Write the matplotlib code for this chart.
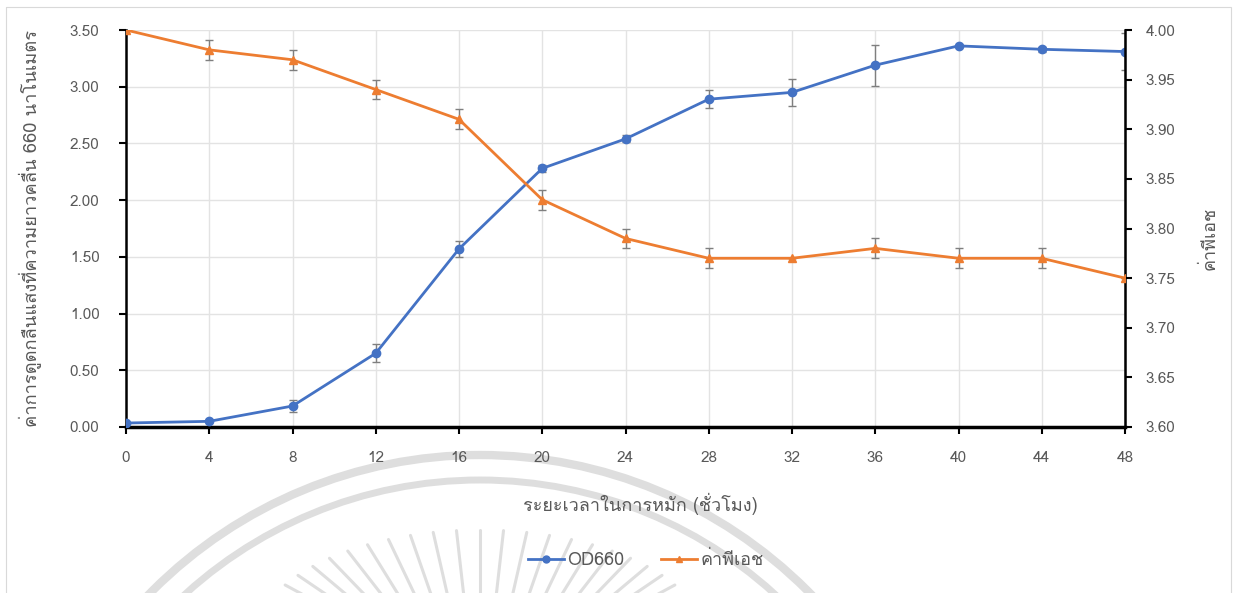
import matplotlib

matplotlib.use("Agg")
import matplotlib.pyplot as plt
import numpy as np
from matplotlib import font_manager
from matplotlib.ft2font import FT2Font
from matplotlib.lines import Line2D
from matplotlib.patches import Arc, Rectangle

# fermentation time (h)
hours = [0, 4, 8, 12, 16, 20, 24, 28, 32, 36, 40, 44, 48]
od660 = [0.035, 0.05, 0.185, 0.65, 1.57, 2.28, 2.54, 2.89, 2.95, 3.19, 3.36, 3.33, 3.31]
od660_err = [0.0, 0.0, 0.05, 0.08, 0.07, 0.03, 0.03, 0.08, 0.12, 0.18, 0.0, 0.02, 0.16]
ph = [4.00, 3.98, 3.97, 3.94, 3.91, 3.829, 3.79, 3.77, 3.77, 3.78, 3.77, 3.77, 3.75]
ph_err = [0.0, 0.01, 0.01, 0.01, 0.01, 0.01, 0.01, 0.01, 0.0, 0.01, 0.01, 0.01, 0.0]

left_ticks = [0, 0.5, 1.0, 1.5, 2.0, 2.5, 3.0, 3.5]
right_ticks = [3.60, 3.65, 3.70, 3.75, 3.80, 3.85, 3.90, 3.95, 4.00]

BLUE = "#4472C4"
ORANGE = "#ED7D31"
GREY_TXT = "#595959"
W, H = 1237, 593


def thai_font():
    for f in font_manager.fontManager.ttflist:
        try:
            if FT2Font(f.fname).get_char_index(ord("ก")):
                return f.name
        except Exception:
            pass
    return None


tf = thai_font()
plt.rcParams["font.family"] = ([tf] if tf else []) + ["DejaVu Sans"]

fig = plt.figure(figsize=(W / 100, H / 100), dpi=100)

# faint watermark emblem behind the lower part (pixel coords)
bg = fig.add_axes([0, 0, 1, 1], zorder=-1)
bg.set_xlim(0, W)
bg.set_ylim(H, 0)
bg.axis("off")
wm = "#dedede"
cx, cy = 480, 918
bg.add_patch(Arc((cx, cy), 2 * 463, 2 * 463, theta1=180, theta2=360, color=wm, lw=6))
bg.add_patch(Arc((cx, cy), 2 * 438, 2 * 438, theta1=180, theta2=360, color=wm, lw=5))
for ang in np.linspace(12, 168, 27):
    t = np.radians(ang)
    x0, y0 = 480 - 225 * np.cos(t), 640 - 110 * np.sin(t)
    x1, y1 = 480 - 150 * np.cos(t), 640 - 40 * np.sin(t)
    bg.plot([x0, x1], [y0, y1], color=wm, lw=2.2, solid_capstyle="round")
bg.add_patch(Rectangle((6, 7), W - 12, H, fill=False, edgecolor="#d9d9d9", lw=0.8))

ax = fig.add_axes([126 / W, 1 - 427 / H, (1125 - 126) / W, (427 - 30) / H])
ax.patch.set_visible(False)
ax2 = ax.twinx()

ax.errorbar(hours, od660, yerr=od660_err, color=BLUE, marker="o", markersize=6, linewidth=2,
            ecolor="#7f7f7f", elinewidth=1, capsize=3, zorder=3)
ax2.errorbar(hours, ph, yerr=ph_err, color=ORANGE, marker="^", markersize=6, linewidth=2,
             ecolor="#7f7f7f", elinewidth=1, capsize=3, zorder=3)

ax.set_xlim(0, 48)
ax.set_ylim(0, 3.5)
ax2.set_ylim(3.6, 4.0)
ax.set_xticks(hours)
ax.set_yticks(left_ticks)
ax2.set_yticks(right_ticks)
ax.set_yticklabels([f"{v:.2f}" for v in left_ticks])
ax2.set_yticklabels([f"{v:.2f}" for v in right_ticks])

ax.grid(True, color="#e3e3e3", linewidth=1)
ax.set_axisbelow(True)
for a in (ax, ax2):
    a.spines["top"].set_visible(False)
    a.tick_params(colors="black", labelcolor=GREY_TXT, labelsize=11, direction="out", length=5, width=1.5)
ax.spines["left"].set_linewidth(1.8)
ax.spines["bottom"].set_linewidth(2.5)
ax2.spines["right"].set_linewidth(1.8)
ax2.spines["left"].set_visible(False)
ax2.spines["bottom"].set_visible(False)
ax.tick_params(axis="x", pad=12)
ax.tick_params(axis="y", pad=14)
ax2.tick_params(axis="y", pad=10)

ax.set_xlabel("ระยะเวลาในการหมัก (ชั่วโมง)", fontsize=13, color=GREY_TXT)
ax.xaxis.set_label_coords(0.5145, -0.165)
ax.set_ylabel("ค่าการดูดกลืนแสงที่ความยาวคลื่น 660 นาโนเมตร", fontsize=13.2, color=GREY_TXT)
ax.yaxis.set_label_coords(-0.084, 0.5)
ax2.set_ylabel("ค่าพีเอช", fontsize=13, color=GREY_TXT)
ax2.yaxis.set_label_coords(1.076, 0.476)

handles = [
    Line2D([], [], color=BLUE, marker="o", markersize=5, linewidth=2),
    Line2D([], [], color=ORANGE, marker="^", markersize=5, linewidth=2),
]
fig.legend(handles, ["OD660", "ค่าพีเอช"], loc="center", bbox_to_anchor=(0.522, 0.055), ncol=2,
           frameon=False, fontsize=13, labelcolor=GREY_TXT, handlelength=2, columnspacing=2,
           handletextpad=0.2)

fig.savefig("out.png", dpi=100)
